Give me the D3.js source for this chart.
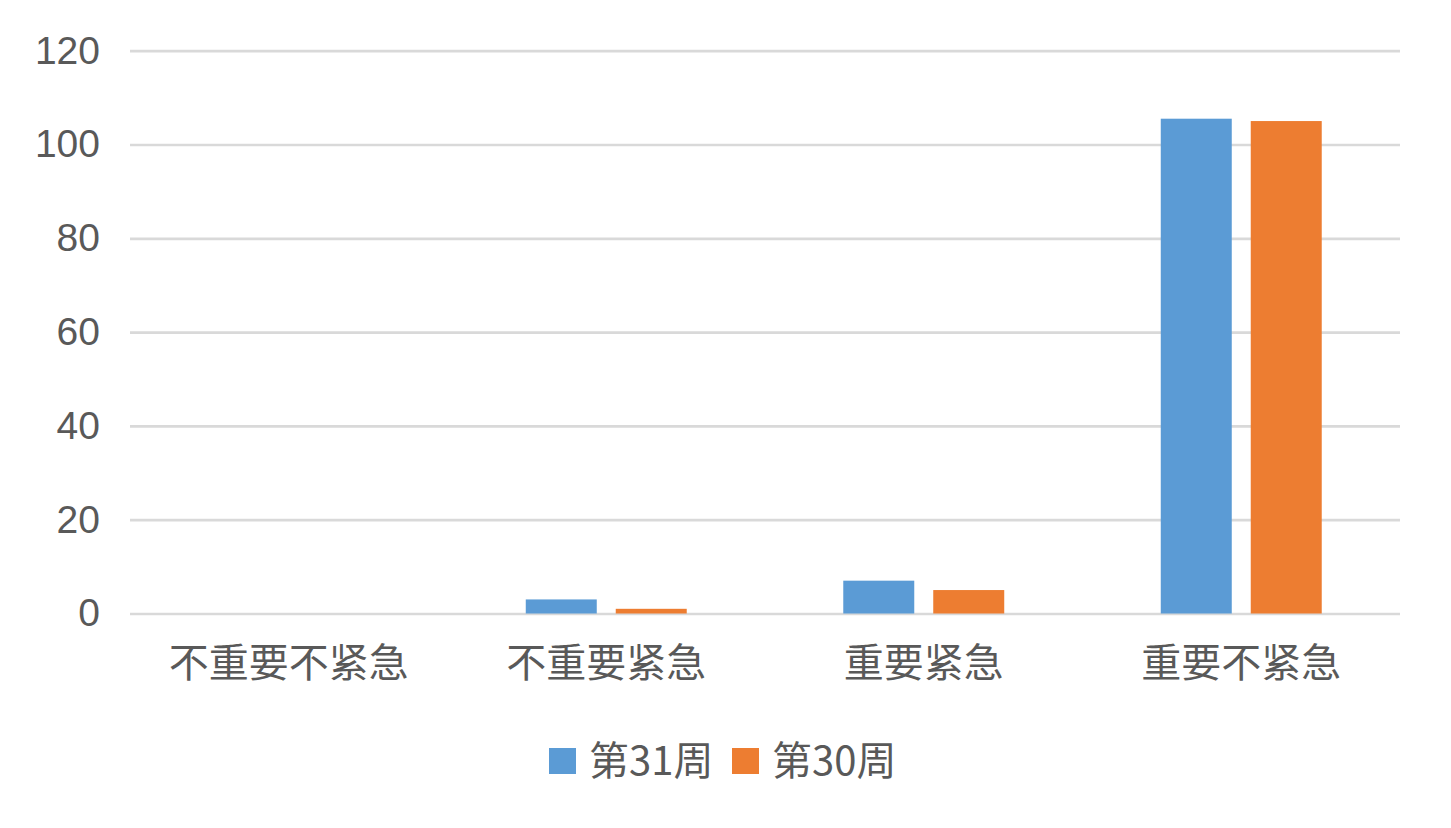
<!DOCTYPE html>
<html>
<head>
<meta charset="utf-8">
<script src="https://cdn.jsdelivr.net/npm/d3@7"></script>
<style>
  body { margin: 0; background: #fff; }
  svg { display: block; }
  text { fill: #595959; }
</style>
</head>
<body>
<svg width="1451" height="828"></svg>
<script>
// data
var categories = ["不重要不紧急", "不重要紧急", "重要紧急", "重要不紧急"];
var seriesNames = ["第31周", "第30周"];
var week31 = [0, 3, 7, 105.5];
var week30 = [0, 1, 5, 105];
var yTicks = [0, 20, 40, 60, 80, 100, 120];
var colors = ["#5b9bd5", "#ed7d31"];

var rows = categories.map(function(c, i){
    return {cat: c, values: [week31[i], week30[i]]};
});

var svg = d3.select('svg');
var plotLeft = 130, plotRight = 1400, plotTop = 50.7, plotBottom = 613.5;

var scaleX = d3.scaleBand().domain(categories).range([plotLeft, plotRight]);
var scaleY = d3.scaleLinear().domain([0, 120]).range([plotBottom, plotTop]);

// inner band for the two series, group is about half of a category
var groupW = scaleX.bandwidth() * 0.507;
var scaleS = d3.scaleBand().domain(seriesNames).range([0, groupW]).paddingInner(0.211);

// gridlines + y labels
var yAxis = svg.append('g')
    .attr('transform', 'translate(' + plotLeft + ',0)')
    .call(d3.axisLeft(scaleY).tickValues(yTicks).tickSize(-(plotRight - plotLeft)).tickPadding(30));
yAxis.select('.domain').remove();
yAxis.selectAll('.tick line').attr('stroke', '#d9d9d9').attr('stroke-width', 2.7);
yAxis.selectAll('.tick text')
    .attr('font-family', '"Liberation Sans", Arial, sans-serif')
    .attr('font-size', 39)
    .attr('fill', '#595959');

// bars
var groups = svg.selectAll('.grp')
    .data(rows)
    .enter()
    .append('g')
    .attr('class', 'grp')
    .attr('transform', function(d){
        return 'translate(' + (scaleX(d.cat) + (scaleX.bandwidth() - groupW) / 2) + ',0)';
    });

groups.selectAll('rect')
    .data(function(d){ return d.values.map(function(v, i){ return {name: seriesNames[i], v: v, i: i}; }); })
    .enter()
    .append('rect')
    .attr('x', function(d){ return scaleS(d.name); })
    .attr('width', scaleS.bandwidth())
    .attr('y', function(d){ return scaleY(d.v); })
    .attr('height', function(d){ return plotBottom - scaleY(d.v); })
    .attr('fill', function(d){ return colors[d.i]; });

// category labels
var xAxis = svg.append('g')
    .attr('transform', 'translate(0,' + plotBottom + ')')
    .call(d3.axisBottom(scaleX).tickSize(0).tickPadding(35));
xAxis.select('.domain').remove();
xAxis.selectAll('.tick text')
    .attr('font-family', '"Noto Sans CJK SC", sans-serif')
    .attr('font-weight', 400)
    .attr('font-size', 40)
    .attr('fill', '#595959');

// legend
var legendX = [549, 732];
var legend = svg.selectAll('.legend')
    .data(seriesNames)
    .enter()
    .append('g')
    .attr('class', 'legend')
    .attr('transform', function(d, i){ return 'translate(' + legendX[i] + ',748)'; });

legend.append('rect')
    .attr('width', 27)
    .attr('height', 26)
    .attr('fill', function(d, i){ return colors[i]; });

legend.append('text')
    .text(function(d){ return d; })
    .attr('x', 40)
    .attr('y', 13)
    .attr('dy', '0.36em')
    .attr('font-family', '"Noto Sans CJK SC", sans-serif')
    .attr('font-weight', 400)
    .attr('font-size', 40)
    .attr('fill', '#595959');
</script>
</body>
</html>
